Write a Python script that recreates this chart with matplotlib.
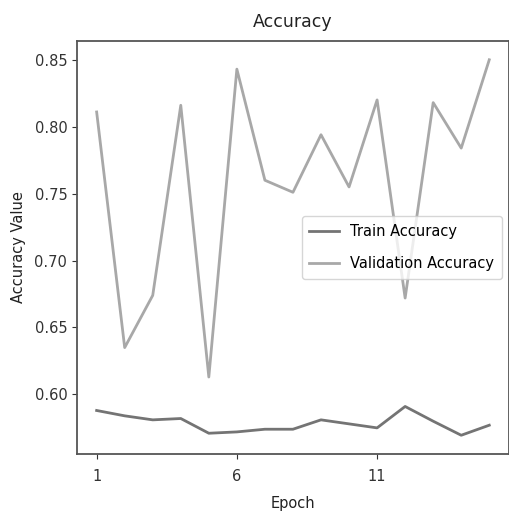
import numpy as np
import matplotlib
matplotlib.use("Agg")
import matplotlib.pyplot as plt

# accuracy history per epoch
epochs = np.arange(1, 16)
train_acc = [0.588, 0.584, 0.581, 0.582, 0.571, 0.572, 0.574, 0.574,
             0.581, 0.578, 0.575, 0.591, 0.580, 0.5695, 0.577]
val_acc = [0.811, 0.635, 0.674, 0.816, 0.613, 0.843, 0.760, 0.751,
           0.794, 0.755, 0.820, 0.672, 0.818, 0.784, 0.850]

fig = plt.figure(figsize=(5.09, 5.15), dpi=100)
ax = fig.add_axes([0.1513, 0.1184, 0.8485, 0.802])

ax.plot(epochs, train_acc, color="#747474", linewidth=2.0, label="Train Accuracy")
ax.plot(epochs, val_acc, color="#a8a8a8", linewidth=2.0, label="Validation Accuracy")

ax.set_xticks(np.arange(1, 16, 5))
ax.set_yticks([0.60, 0.65, 0.70, 0.75, 0.80, 0.85])
ax.tick_params(axis="x", pad=7)
ax.tick_params(labelsize=10.5, colors="#333333")
for s in ax.spines.values():
    s.set_color("#555555")
    s.set_linewidth(1.3)

ax.set_title("Accuracy", fontsize=12.5, color="#222222", pad=10)
ax.set_xlabel("Epoch", fontsize=10.5, color="#222222", labelpad=9)
ax.set_ylabel("Accuracy Value", fontsize=10.5, color="#222222", labelpad=6)
ax.legend(loc="center right", fontsize=10.5, labelspacing=1.2, borderpad=0.5)

fig.savefig("out.png", dpi=100)
